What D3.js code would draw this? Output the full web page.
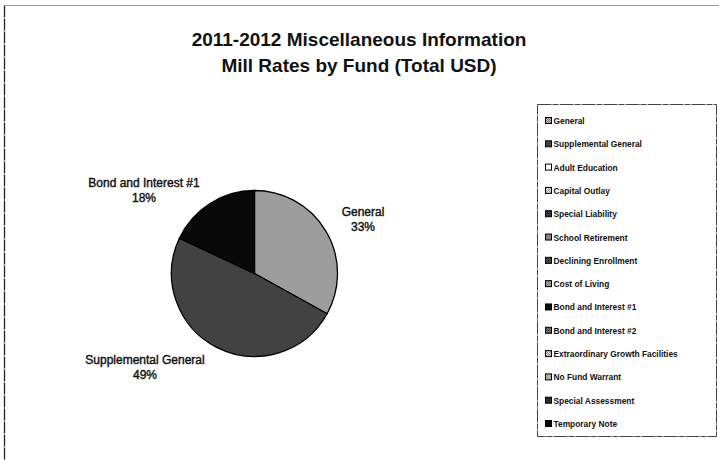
<!DOCTYPE html>
<html>
<head>
<meta charset="utf-8">
<script src="https://cdn.jsdelivr.net/npm/d3@7"></script>
<style>
  html, body { margin: 0; padding: 0; background: #fff; }
  svg { display: block; }
  text { font-family: Arial, "Liberation Sans", sans-serif; fill: #111; }
</style>
</head>
<body>
<svg id="chart" width="719" height="460"></svg>
<script>
// Mill rates by fund, 2011-2012 (funds with no levy are still listed in the legend)
const funds = [
  "General", "Supplemental General", "Adult Education", "Capital Outlay",
  "Special Liability", "School Retirement", "Declining Enrollment", "Cost of Living",
  "Bond and Interest #1", "Bond and Interest #2", "Extraordinary Growth Facilities",
  "No Fund Warrant", "Special Assessment", "Temporary Note"
];
const millRates = [20.0, 29.6, 0, 0, 0, 0, 0, 0, 10.9, 0, 0, 0, 0, 0];

// Two-tone halftone fills, one per fund: [dark dot, light dot]
const fundTones = [
  ["#6a6a6a", "#cfcfcf"], ["#262626", "#5e5e5e"], ["#ffffff", "#ffffff"], ["#9a9a9a", "#e8e8e8"],
  ["#1c1c1c", "#4a4a4a"], ["#555555", "#b0b0b0"], ["#222222", "#606060"], ["#666666", "#bdbdbd"],
  ["#000000", "#111111"], ["#3a3a3a", "#888888"], ["#8a8a8a", "#dcdcdc"], ["#7a7a7a", "#e0e0e0"],
  ["#1a1a1a", "#3a3a3a"], ["#000000", "#0c0c0c"]
];

const title = ["2011-2012 Miscellaneous Information", "Mill Rates by Fund (Total USD)"];

const svg = d3.select("#chart");
const defs = svg.append("defs");

fundTones.forEach((t, i) => {
  const p = defs.append("pattern")
    .attr("id", "tone" + i)
    .attr("width", 2).attr("height", 2)
    .attr("patternUnits", "userSpaceOnUse");
  p.append("rect").attr("width", 2).attr("height", 2).attr("fill", t[1]);
  p.append("rect").attr("width", 1).attr("height", 1).attr("fill", t[0]);
  p.append("rect").attr("x", 1).attr("y", 1).attr("width", 1).attr("height", 1).attr("fill", t[0]);
});

// chart area frame
svg.append("line").attr("x1", 4.5).attr("y1", 5.5).attr("x2", 719).attr("y2", 5.5)
  .attr("stroke", "#9a9a9a").attr("stroke-width", 1);
svg.append("line").attr("x1", 4.5).attr("y1", 5.5).attr("x2", 4.5).attr("y2", 460)
  .attr("stroke", "#222").attr("stroke-width", 1.3).attr("stroke-dasharray", "12,1");

// title
svg.append("text")
  .attr("x", 359).attr("y", 46)
  .attr("text-anchor", "middle")
  .style("font-size", "19px").style("font-weight", "bold")
  .selectAll("tspan").data(title).join("tspan")
  .attr("x", 359).attr("dy", (d, i) => i ? 26 : 0)
  .text(d => d);

// pie
const data = funds.map((f, i) => ({ fund: f, value: millRates[i], idx: i }));
const total = d3.sum(millRates);
const pie = d3.pie().value(d => d.value).sort(null);
const arcs = pie(data).filter(a => a.data.value > 0);
const radius = 83;
const arc = d3.arc().innerRadius(0).outerRadius(radius);

const g = svg.append("g").attr("transform", "translate(254.5,273.5)");
g.selectAll("path").data(arcs).join("path")
  .attr("d", arc)
  .attr("fill", d => "url(#tone" + d.data.idx + ")")
  .attr("stroke", "#000").attr("stroke-width", 1.3);

// slice labels placed outside the pie
const labelPos = {
  "General": [363, 216],
  "Supplemental General": [145, 364],
  "Bond and Interest #1": [144, 187]
};
const lab = svg.append("g").selectAll("text").data(arcs).join("text")
  .attr("text-anchor", "middle")
  .style("font-size", "12px")
  .attr("stroke", "#111").attr("stroke-width", 0.4);
lab.append("tspan")
  .attr("x", d => labelPos[d.data.fund][0]).attr("y", d => labelPos[d.data.fund][1])
  .text(d => d.data.fund);
lab.append("tspan")
  .attr("x", d => labelPos[d.data.fund][0]).attr("dy", 15)
  .text(d => Math.round(d.data.value / total * 100) + "%");

// legend
const lg = svg.append("g");
lg.append("rect").attr("x", 537.5).attr("y", 104.5).attr("width", 179).attr("height", 332)
  .attr("fill", "#fff").attr("stroke", "#444").attr("stroke-width", 1)
  .attr("stroke-dasharray", "14,1,6,1");
const ly = d3.scalePoint().domain(funds).range([121, 424]);
const items = lg.selectAll("g.item").data(data).join("g")
  .attr("class", "item")
  .attr("transform", d => `translate(545,${ly(d.fund)})`);
items.append("rect")
  .attr("x", 0.5).attr("y", -3.5).attr("width", 6).attr("height", 6)
  .attr("fill", d => "url(#tone" + d.idx + ")")
  .attr("stroke", "#000").attr("stroke-width", 1);
items.append("text")
  .attr("x", 8.5).attr("y", 3)
  .style("font-size", "8.4px").style("font-weight", "bold")
  .text(d => d.fund);
</script>
</body>
</html>
